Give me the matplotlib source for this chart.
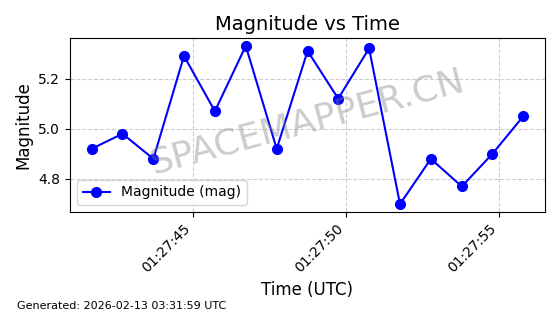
import datetime as dt
import matplotlib
matplotlib.use("Agg")
import matplotlib.pyplot as plt
import matplotlib.dates as mdates

# Datos (segundos despues de 01:27:00)
seconds = [41.70, 42.71, 43.72, 44.72, 45.73, 46.74, 47.75, 48.76,
           49.76, 50.77, 51.78, 52.79, 53.80, 54.80, 55.81]
magnitude = [4.92, 4.98, 4.88, 5.29, 5.07, 5.33, 4.92, 5.31,
             5.12, 5.32, 4.70, 4.88, 4.77, 4.90, 5.05]

base = dt.datetime(2026, 2, 13, 1, 27, 0)
times = [base + dt.timedelta(seconds=s) for s in seconds]

fig = plt.figure(figsize=(5.6, 3.14), dpi=100)
ax = fig.add_axes([0.125, 0.325, 0.848, 0.554])

ax.plot(times, magnitude, color='blue', marker='o', markersize=7,
        linewidth=1.5, label='Magnitude (mag)')

ax.set_title('Magnitude vs Time', fontsize=14)
ax.set_xlabel('Time (UTC)', fontsize=12)
ax.set_ylabel('Magnitude', fontsize=12)
ax.grid(True, linestyle='--', alpha=0.6)

ax.xaxis.set_major_locator(mdates.SecondLocator(bysecond=range(0, 60, 5)))
ax.xaxis.set_major_formatter(mdates.DateFormatter('%H:%M:%S'))
plt.setp(ax.get_xticklabels(), rotation=45, ha='right')
ax.set_yticks([4.8, 5.0, 5.2])

ax.legend(loc='lower left', fontsize=10)

# Marca de agua
ax.text(0.5, 0.52, 'SPACEMAPPER.CN', transform=ax.transAxes, fontsize=26,
        color='gray', alpha=0.4, rotation=15, ha='center', va='center')

fig.text(0.03, 0.015, 'Generated: 2026-02-13 03:31:59 UTC', fontsize=8)

fig.savefig('out.png', dpi=100)
